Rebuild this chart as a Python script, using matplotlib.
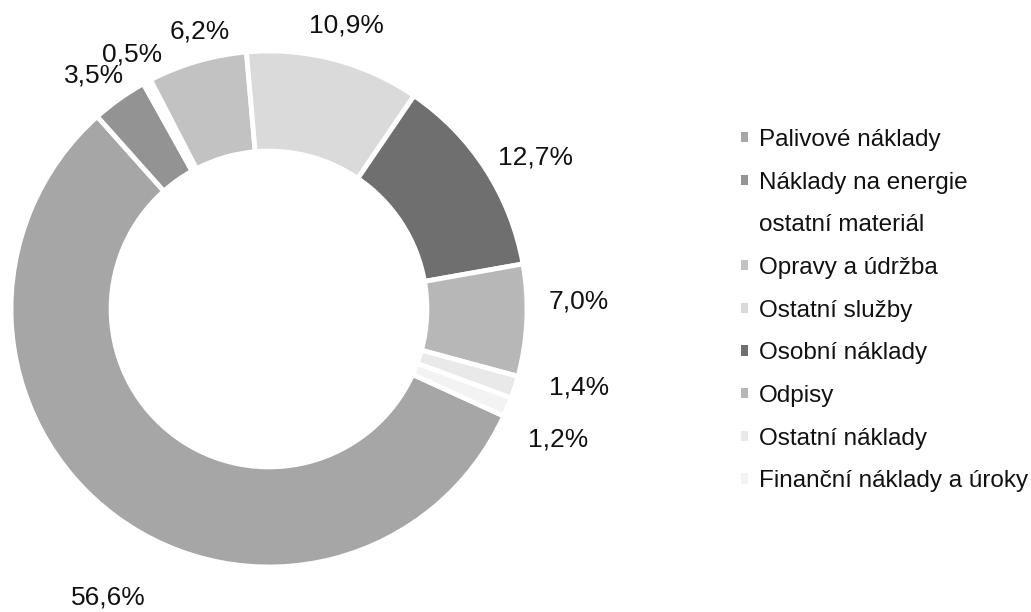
import numpy as np
import matplotlib
matplotlib.use("Agg")
import matplotlib.pyplot as plt
from matplotlib.patches import Patch

plt.rcParams['font.family'] = ['Liberation Sans', 'DejaVu Sans']

# data
kategorie = ['Palivové náklady', 'Náklady na energie', 'ostatní materiál',
             'Opravy a údržba', 'Ostatní služby', 'Osobní náklady', 'Odpisy',
             'Ostatní náklady', 'Finanční náklady a úroky']
podil = [56.6, 3.5, 0.5, 6.2, 10.9, 12.7, 7.0, 1.4, 1.2]
popisky = ['56,6%', '3,5%', '0,5%', '6,2%', '10,9%', '12,7%', '7,0%', '1,4%', '1,2%']

barvy = ['#a6a6a6', '#939393', '#ffffff', '#c2c2c2', '#dadada',
         '#6f6f6f', '#b7b7b7', '#e9e9e9', '#f3f3f3']
# umisteni popisku: vzdalenost od stredu (v polomerech) a posun uhlu (stupne, po smeru hod.)
label_r = [1.28, 1.13, 1.12, 1.11, 1.14, 1.19, 1.20, 1.24, 1.23]
label_da = [-7.2, -1.4, -0.1, 2.2, 0.6, 3.3, -3.9, -3.4, 1.9]

fig = plt.figure(figsize=(10.31, 6.12), dpi=100)
ax = fig.add_axes([11 / 1031, 45 / 612, 516 / 1031, 516 / 612])

wedges, _ = ax.pie(podil, colors=barvy, startangle=-24.5, counterclock=False,
                   radius=1.0,
                   wedgeprops=dict(width=0.388, edgecolor='white', linewidth=3.5))
ax.set_xlim(-1, 1)
ax.set_ylim(-1, 1)
ax.set_aspect('equal')
ax.axis('off')

for w, txt, r, da in zip(wedges, popisky, label_r, label_da):
    a = np.deg2rad((w.theta1 + w.theta2) / 2 - da)
    ax.text(r * np.cos(a), r * np.sin(a), txt, ha='center', va='center',
            fontsize=19, color='#111111', clip_on=False)

handles = [Patch(facecolor=c, edgecolor='none') for c in barvy]
fig.legend(handles, kategorie, loc='upper left', bbox_to_anchor=(741 / 1031, 1 - 129 / 612),
           frameon=False, fontsize=17.5, handlelength=0.28, handleheight=0.28,
           handletextpad=0.45, labelspacing=0.85, borderpad=0, borderaxespad=0,
           labelcolor='#111111')

fig.savefig('out.png', dpi=100)
